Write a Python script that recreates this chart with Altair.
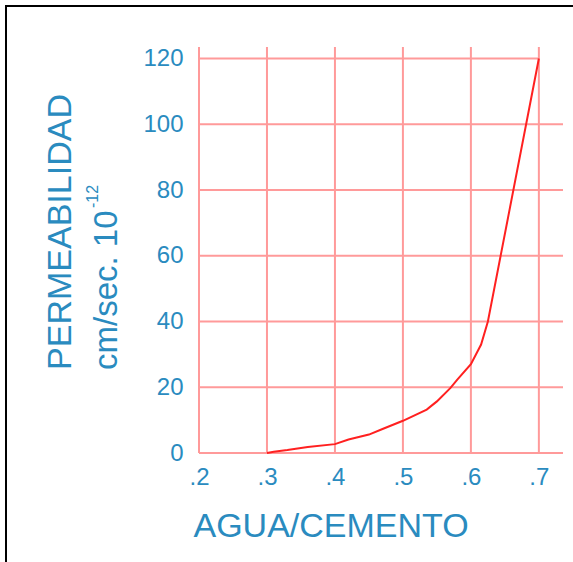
import altair as alt
import pandas as pd

# ---- data ----
wc_ratio = [0.30, 0.31, 0.33, 0.36, 0.40, 0.42, 0.45, 0.47, 0.50, 0.535, 0.55,
            0.57, 0.58, 0.60, 0.615, 0.625, 0.70]
permeability = [0, 0.4, 0.9, 1.8, 2.7, 4.1, 5.6, 7.3, 9.8, 13.2, 15.7,
                19.8, 22.3, 27, 33, 40, 120]
x_ticks = [0.2, 0.3, 0.4, 0.5, 0.6, 0.7]
y_ticks = [0, 20, 40, 60, 80, 100, 120]
x_title = "AGUA/CEMENTO"
y_title_lines = ["PERMEABILIDAD", "cm/sec. 10", "-12"]

# ---- layout / style ----
X_END = 0.7355   # horizontal grid lines overhang to the right
Y_END = 123.5    # vertical grid lines overhang at the top
FONT = "Liberation Sans"
BLUE = "#2a8bbf"
GRID = "#ff9a9a"
LINE = "#ff2020"

xs = alt.Scale(domain=[min(x_ticks), X_END], nice=False, zero=False)
ys = alt.Scale(domain=[0, Y_END], nice=False, zero=False)

xaxis = alt.Axis(values=x_ticks, grid=False, domain=False, ticks=False, tickSize=0,
                 labelExpr="substring(format(datum.value, '.1f'), 1)",
                 labelFont=FONT, labelFontSize=24, labelColor=BLUE, labelPadding=12,
                 labelFlush=False, labelOverlap=False,
                 title=x_title, titleFont=FONT, titleFontSize=34, titleFontWeight="normal",
                 titleColor=BLUE, titleAlign="left", titleAnchor="start",
                 titleBaseline="alphabetic", titleX=-6, titleY=83)
yaxis = alt.Axis(values=y_ticks, grid=False, domain=False, ticks=False, tickSize=0,
                 labelFont=FONT, labelFontSize=24, labelColor=BLUE, labelPadding=16,
                 labelFlush=False, labelOverlap=False, title=None)

X = alt.X("x:Q", scale=xs, axis=xaxis)
Y = alt.Y("y:Q", scale=ys, axis=yaxis)

vgrid_df = pd.DataFrame({"x": x_ticks, "y": [0] * len(x_ticks), "y2": [Y_END] * len(x_ticks)})
hgrid_df = pd.DataFrame({
    "y": y_ticks,
    "x": [min(x_ticks)] * len(y_ticks),
    "x2": [X_END if v < max(y_ticks) else max(x_ticks) for v in y_ticks],
})
curve_df = pd.DataFrame({"x": wc_ratio, "y": permeability})

vgrid = alt.Chart(vgrid_df).mark_rule(color=GRID, strokeWidth=2).encode(x=X, y=Y, y2="y2:Q")
hgrid = alt.Chart(hgrid_df).mark_rule(color=GRID, strokeWidth=2).encode(x=X, x2="x2:Q", y=Y)
curve = alt.Chart(curve_df).mark_line(color=LINE, strokeWidth=2).encode(x=X, y=Y)

t1 = alt.Chart(pd.DataFrame({"t": [y_title_lines[0]]})).mark_text(
    angle=270, align="center", baseline="alphabetic", fontSize=34, font=FONT, color=BLUE
).encode(text="t:N", x=alt.value(-128), y=alt.value(185))
t2 = alt.Chart(pd.DataFrame({"t": [y_title_lines[1]]})).mark_text(
    angle=270, align="left", baseline="alphabetic", fontSize=33, font=FONT, color=BLUE
).encode(text="t:N", x=alt.value(-82), y=alt.value(323))
t3 = alt.Chart(pd.DataFrame({"t": [y_title_lines[2]]})).mark_text(
    angle=270, align="left", baseline="alphabetic", fontSize=16, font=FONT, color=BLUE
).encode(text="t:N", x=alt.value(-101), y=alt.value(161))

border_left = alt.Chart(pd.DataFrame({"a": [0]})).mark_rule(color="black", strokeWidth=2).encode(
    x=alt.value(-193), y=alt.value(-42), y2=alt.value(515))
border_top = alt.Chart(pd.DataFrame({"a": [0]})).mark_rule(color="black", strokeWidth=2).encode(
    x=alt.value(-194), x2=alt.value(374), y=alt.value(-41))

chart = alt.layer(vgrid, hgrid, curve, t1, t2, t3, border_left, border_top).properties(
    width=364, height=406,
    padding={"left": 199, "top": 47, "right": 10, "bottom": 109},
    autosize=alt.AutoSizeParams(type="none"),
    background="white",
).configure_view(stroke=None)

chart.save("out.html", embed_options={"renderer": "svg", "actions": False})
